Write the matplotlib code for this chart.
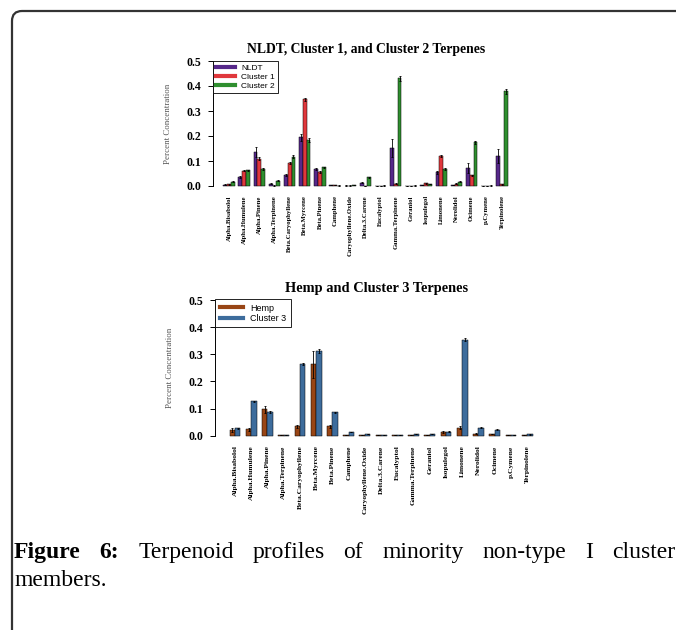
import matplotlib
matplotlib.use("Agg")
import matplotlib.pyplot as plt
from matplotlib.patches import FancyBboxPatch
from matplotlib.lines import Line2D
from matplotlib.transforms import IdentityTransform
import numpy as np

terpenes = ["Alpha.Bisabolol", "Alpha.Humulene", "Alpha.Pinene", "Alpha.Terpinene",
            "Beta.Caryophyllene", "Beta.Myrcene", "Beta.Pinene", "Camphene",
            "Caryophyllene.Oxide", "Delta.3.Carene", "Eucalyptol", "Gamma.Terpinene",
            "Geraniol", "Isopulegol", "Limonene", "Nerolidol", "Ocimene", "p.Cymene",
            "Terpinolene"]

# top panel
nldt = [0.005, 0.037, 0.135, 0.010, 0.043, 0.195, 0.067, 0.003, 0.002, 0.013,
        0.001, 0.152, 0.001, 0.004, 0.055, 0.005, 0.072, 0.001, 0.120]
nldt_err = [0.002, 0.004, 0.020, 0.002, 0.004, 0.015, 0.004, 0.0005, 0.0005, 0.002,
            0.0003, 0.035, 0.0003, 0.001, 0.007, 0.001, 0.020, 0.0003, 0.028]
cluster1 = [0.007, 0.062, 0.110, 0.002, 0.092, 0.347, 0.057, 0.003, 0.002, 0.001,
            0.001, 0.010, 0.001, 0.012, 0.120, 0.010, 0.043, 0.001, 0.007]
cluster1_err = [0.001, 0.003, 0.005, 0.001, 0.004, 0.007, 0.003, 0.0005, 0.0005, 0.0003,
                0.0003, 0.002, 0.0003, 0.002, 0.003, 0.002, 0.003, 0.0003, 0.001]
cluster2 = [0.017, 0.063, 0.068, 0.022, 0.118, 0.185, 0.075, 0.002, 0.003, 0.035,
            0.002, 0.432, 0.002, 0.008, 0.068, 0.018, 0.175, 0.002, 0.380]
cluster2_err = [0.002, 0.003, 0.004, 0.002, 0.007, 0.008, 0.003, 0.0005, 0.0005, 0.002,
                0.0003, 0.010, 0.0003, 0.001, 0.003, 0.002, 0.005, 0.0003, 0.010]

# bottom panel
hemp = [0.020, 0.023, 0.097, 0.001, 0.035, 0.263, 0.035, 0.003, 0.003, 0.001,
        0.001, 0.003, 0.002, 0.015, 0.030, 0.008, 0.006, 0.001, 0.001]
hemp_err = [0.008, 0.005, 0.012, 0.0002, 0.006, 0.050, 0.006, 0.001, 0.0005, 0.0002,
            0.0002, 0.0005, 0.0005, 0.004, 0.007, 0.001, 0.001, 0.0002, 0.0002]
cluster3 = [0.027, 0.127, 0.087, 0.001, 0.265, 0.312, 0.087, 0.014, 0.005, 0.001,
            0.001, 0.006, 0.005, 0.014, 0.354, 0.030, 0.022, 0.001, 0.005]
cluster3_err = [0.002, 0.002, 0.003, 0.0002, 0.004, 0.008, 0.002, 0.001, 0.0005, 0.0002,
                0.0002, 0.001, 0.0005, 0.002, 0.006, 0.001, 0.002, 0.0002, 0.001]

W, H = 676, 630
fig = plt.figure(figsize=(W / 100, H / 100), dpi=100)
serif = "Liberation Serif"


def px_axes(left, top, right, bottom):
    return fig.add_axes([left / W, 1 - bottom / H, (right - left) / W, (bottom - top) / H])


def style_axes(ax, title, label_size, title_size):
    for s in ["top", "right", "bottom"]:
        ax.spines[s].set_visible(False)
    ax.spines["left"].set_bounds(0, 0.5)
    ax.spines["left"].set_linewidth(0.7)
    ax.set_ylim(-0.02, 0.52)
    ax.set_yticks([0, 0.1, 0.2, 0.3, 0.4, 0.5])
    ax.set_yticklabels(["0.0", "0.1", "0.2", "0.3", "0.4", "0.5"],
                       fontfamily=serif, fontweight="bold", fontsize=8.5)
    ax.tick_params(axis="y", length=3.5, width=0.7, pad=5)
    ax.tick_params(axis="x", length=0, pad=3)
    ax.set_ylabel("Percent Concentration", fontfamily=serif, fontsize=6.4,
                  color="#555555", labelpad=10)
    ax.set_title(title, fontfamily=serif, fontweight="bold", fontsize=title_size, pad=2)
    for lab in ax.get_xticklabels():
        lab.set_fontfamily(serif)
        lab.set_fontweight("bold")
        lab.set_fontsize(label_size)


def draw_group(ax, series, errs, colors, group_w):
    n = len(terpenes)
    for j, (vals, err, col) in enumerate(zip(series, errs, colors)):
        x = np.arange(n) * group_w + 1.5 + j
        ax.bar(x, vals, width=1, color=col, edgecolor="black", linewidth=0.35)
        ax.errorbar(x, vals, yerr=err, fmt="none", ecolor="black", elinewidth=0.6,
                    capsize=0.8, capthick=0.6)
    centers = np.arange(n) * group_w + 1 + len(series) / 2
    ax.set_xticks(centers)
    ax.set_xticklabels(terpenes, rotation=90, va="top")


top_colors = ["#56288a", "#e0383c", "#2f8f2f"]
bot_colors = ["#984515", "#3d6c9c"]

# top chart
ax1 = px_axes(213, 56, 519, 191)
ax1.set_xlim(-1.71, 79)
draw_group(ax1, [nldt, cluster1, cluster2], [nldt_err, cluster1_err, cluster2_err],
           top_colors, 4)
style_axes(ax1, "NLDT, Cluster 1, and Cluster 2 Terpenes", 4.8, 9.8)
h1 = [Line2D([], [], color=c, lw=3) for c in top_colors]
leg1 = ax1.legend(h1, ["NLDT", "Cluster 1", "Cluster 2"], loc="upper left",
                  bbox_to_anchor=(213 / W, 1 - 61 / H), bbox_transform=fig.transFigure,
                  borderaxespad=0, fancybox=False, edgecolor="black", framealpha=1,
                  prop={"family": "Liberation Sans", "size": 6}, handlelength=2.2,
                  labelspacing=0.1, borderpad=0.4, handletextpad=0.8)
leg1.get_frame().set_linewidth(0.6)

# bottom chart
ax2 = px_axes(215, 294.6, 538, 441.1)
ax2.set_xlim(-1.70, 58)
draw_group(ax2, [hemp, cluster3], [hemp_err, cluster3_err], bot_colors, 3)
style_axes(ax2, "Hemp and Cluster 3 Terpenes", 5.4, 10.4)
h2 = [Line2D([], [], color=c, lw=3) for c in bot_colors]
leg2 = ax2.legend(h2, ["Hemp", "Cluster 3"], loc="upper left",
                  bbox_to_anchor=(215 / W, 1 - 299 / H), bbox_transform=fig.transFigure,
                  borderaxespad=0, fancybox=False, edgecolor="black", framealpha=1,
                  prop={"family": "Liberation Sans", "size": 6.5}, handlelength=2.6,
                  labelspacing=0.15, borderpad=0.5, handletextpad=0.8)
leg2.get_frame().set_linewidth(0.6)

# outer frame
frame = FancyBboxPatch((12, -30), 720, 630 - 11 + 30, boxstyle="round,pad=0,rounding_size=10",
                       transform=IdentityTransform(), facecolor="none",
                       edgecolor="#333333", linewidth=1.6)
fig.add_artist(frame)

# caption, justified first line
line1 = [("Figure", "bold"), ("6:", "bold"), ("Terpenoid", "normal"), ("profiles", "normal"),
         ("of", "normal"), ("minority", "normal"), ("non-type", "normal"), ("I", "normal"),
         ("cluster", "normal")]
x0, x1 = 14, 675
cap_size = 17
fig.canvas.draw()
renderer = fig.canvas.get_renderer()
texts = []
for word, weight in line1:
    t = fig.text(0, 1 - 558 / H, word, fontfamily=serif, fontweight=weight,
                 fontsize=cap_size, va="baseline", ha="left")
    texts.append(t)
widths = [t.get_window_extent(renderer).width for t in texts]
gap = (x1 - x0 - sum(widths)) / (len(texts) - 1)
pos = x0
for t, w in zip(texts, widths):
    t.set_x(pos / W)
    pos += w + gap
fig.text(x0 / W, 1 - 586 / H, "members.", fontfamily=serif, fontsize=cap_size,
         va="baseline", ha="left")

fig.savefig("out.png", dpi=100)
